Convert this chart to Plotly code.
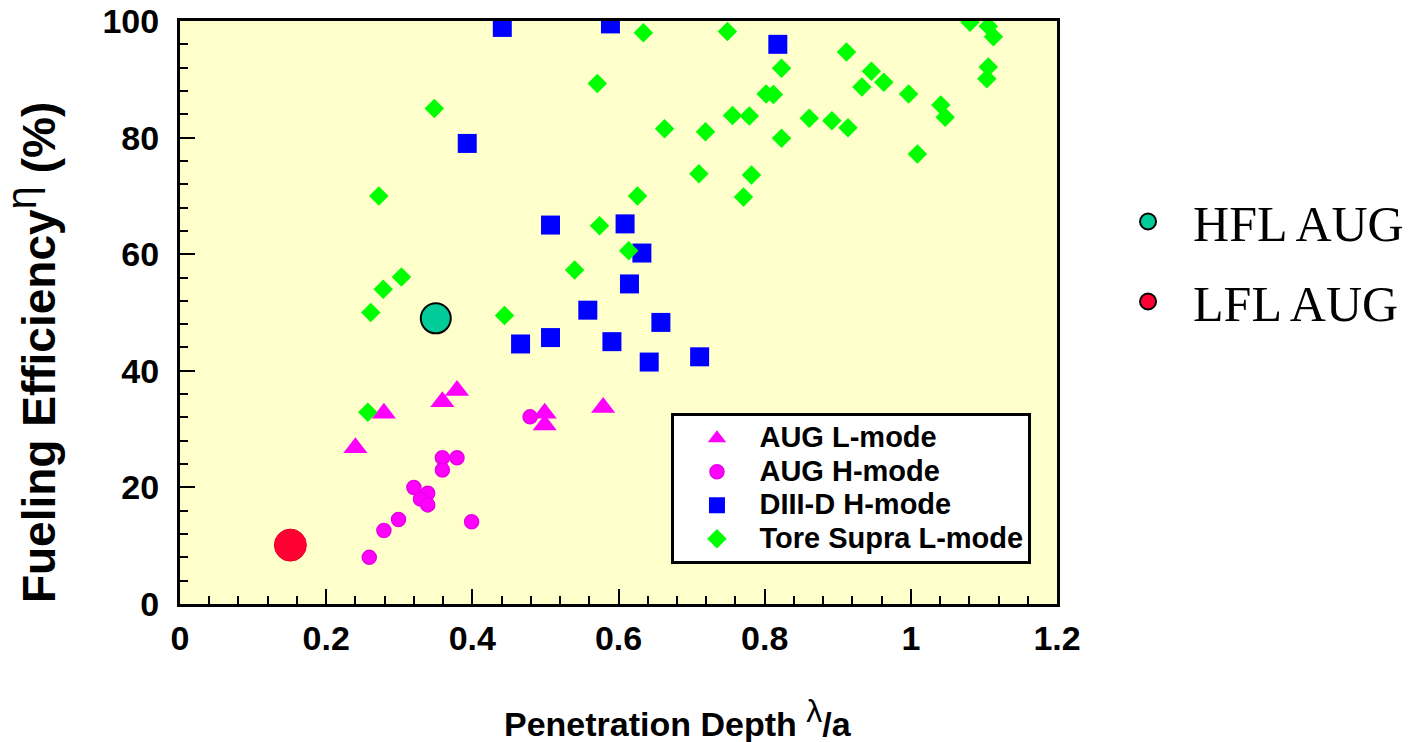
import plotly.graph_objects as go

# AUG L-mode (triangles)
aug_l_x = [0.240, 0.279, 0.359, 0.379, 0.499, 0.499, 0.579]
aug_l_y = [26.8, 32.7, 34.7, 36.6, 32.7, 30.7, 33.7]

# AUG H-mode (circles)
aug_h_x = [0.479, 0.359, 0.379, 0.359, 0.320, 0.339, 0.329, 0.339, 0.299, 0.279, 0.399, 0.259]
aug_h_y = [32.1, 25.1, 25.1, 23.0, 20.0, 19.0, 18.0, 17.0, 14.5, 12.6, 14.1, 8.0]

# DIII-D H-mode (squares)
d3d_x = [0.441, 0.589, 0.393, 0.818, 0.507, 0.609, 0.632, 0.615, 0.558, 0.658,
         0.466, 0.507, 0.591, 0.642, 0.711]
d3d_y = [98.9, 99.5, 79.0, 96.0, 65.0, 65.2, 60.2, 54.9, 50.4, 48.3,
         44.6, 45.7, 45.0, 41.5, 42.4]

# Tore Supra L-mode (diamonds)
ts_x = [0.634, 0.571, 0.348, 0.663, 0.272, 0.626, 0.574, 0.614, 0.540, 0.303,
        0.278, 0.261, 0.444, 0.257, 0.749, 0.912, 0.823, 0.946, 0.963, 0.933,
        0.997, 0.802, 0.812, 1.041, 1.047, 0.756, 0.779, 0.861, 0.892, 0.914,
        0.719, 0.823, 1.009, 0.710, 0.782, 0.771, 1.081, 1.106, 1.113, 1.106, 1.104]
ts_y = [98.0, 89.3, 85.0, 81.5, 70.0, 70.0, 64.9, 60.6, 57.3, 56.1,
        54.0, 50.0, 49.5, 32.9, 98.2, 94.7, 91.9, 91.4, 89.5, 88.7,
        87.5, 87.5, 87.4, 85.6, 83.5, 83.8, 83.7, 83.3, 82.9, 81.7,
        81.0, 79.9, 77.2, 73.8, 73.6, 69.8, 99.8, 99.1, 97.3, 92.1, 90.1]

# HFL / LFL AUG
hfl_x = [0.350]
hfl_y = [49.0]
lfl_x = [0.151]
lfl_y = [10.1]

series_names = ["AUG L-mode", "AUG H-mode", "DIII-D H-mode", "Tore Supra L-mode"]

x_ticks = [0, 0.2, 0.4, 0.6, 0.8, 1.0, 1.2]
x_ticktext = ["0", "0.2", "0.4", "0.6", "0.8", "1", "1.2"]
y_ticks = [0, 20, 40, 60, 80, 100]

BOLD = "Liberation Sans, Arial, sans-serif"
SERIF = "Liberation Serif, Times New Roman, serif"


def lname(s):
    return '<span style="font-size:29px">' + s + '</span>'


fig = go.Figure()

fig.add_trace(go.Scatter(x=aug_l_x, y=aug_l_y, mode="markers", name=lname(series_names[0]),
                         marker=dict(symbol="triangle-up", size=21, color="#FF00FF"),
                         legend="legend"))
fig.add_trace(go.Scatter(x=aug_h_x, y=aug_h_y, mode="markers", name=lname(series_names[1]),
                         marker=dict(symbol="circle", size=14, color="#FF00FF",
                                     line=dict(color="#E800E8", width=1.5)),
                         legend="legend"))
fig.add_trace(go.Scatter(x=d3d_x, y=d3d_y, mode="markers", name=lname(series_names[2]),
                         marker=dict(symbol="square", size=19, color="#0000FF"),
                         legend="legend"))
fig.add_trace(go.Scatter(x=ts_x, y=ts_y, mode="markers", name=lname(series_names[3]),
                         marker=dict(symbol="diamond", size=15, color="#00FF00"),
                         legend="legend"))

fig.add_trace(go.Scatter(x=hfl_x, y=hfl_y, mode="markers", name="HFL AUG",
                         marker=dict(symbol="circle", size=30, color="#00CC99",
                                     line=dict(color="black", width=2)),
                         legend="legend2", legendgroup="hfl"))
fig.add_trace(go.Scatter(x=lfl_x, y=lfl_y, mode="markers", name="LFL AUG",
                         marker=dict(symbol="circle", size=32, color="#FF0033",
                                     line=dict(color="#E8002E", width=1)),
                         legend="legend2", legendgroup="lfl", showlegend=False))
fig.add_trace(go.Scatter(x=[None], y=[None], mode="markers", name="LFL AUG",
                         marker=dict(symbol="circle", size=30, color="#FF0033",
                                     line=dict(color="black", width=2)),
                         legend="legend2", legendgroup="lfl"))

axis_common = dict(
    showline=True, linewidth=3, linecolor="black", mirror=True,
    showgrid=False, zeroline=False,
    ticks="inside", ticklen=15, tickwidth=2, tickcolor="black",
    ticklabeloverflow="allow",
    tickfont=dict(family=BOLD, size=34, color="black", weight="bold"),
)

fig.update_xaxes(range=[0, 1.2], tickvals=x_ticks, ticktext=x_ticktext,
                 minor=dict(dtick=0.04, ticks="inside", ticklen=8, tickwidth=2,
                            tickcolor="black", showgrid=False),
                 ticklabelstandoff=2, **axis_common)
fig.update_yaxes(range=[0, 100], tickvals=y_ticks,
                 minor=dict(dtick=4, ticks="inside", ticklen=8, tickwidth=2,
                            tickcolor="black", showgrid=False),
                 ticklabelstandoff=11, **axis_common)

fig.update_layout(
    width=1416, height=742,
    margin=dict(l=172, r=367, t=13, b=146, autoexpand=False),
    paper_bgcolor="white", plot_bgcolor="#FFFFCC",
    showlegend=True,
    legend=dict(x=0.5604, y=0.327, xanchor="left", yanchor="top",
                bgcolor="white", bordercolor="black", borderwidth=3,
                font=dict(family=BOLD, size=23.5, color="black", weight="bold"),
                itemwidth=75, tracegroupgap=0, entrywidth=342, entrywidthmode="pixels"),
    legend2=dict(x=1.0525, y=0.723, xanchor="left", yanchor="top",
                 bgcolor="rgba(0,0,0,0)", borderwidth=0,
                 font=dict(family=SERIF, size=50, color="black"),
                 itemwidth=80, tracegroupgap=12),
    annotations=[
        dict(text="Penetration Depth <sup><span style=\"font-weight:normal;font-size:32px\">λ</span></sup>/a",
             xref="paper", yref="paper", x=0.5676, y=-0.1955,
             xanchor="center", yanchor="middle", showarrow=False,
             font=dict(family=BOLD, size=34, color="black", weight="bold")),
        dict(text="Fueling Efficiency<sup><span style=\"font-weight:normal;font-size:42px\">η</span></sup> (%)",
             xref="paper", yref="paper", x=-0.1695, y=0.431, textangle=-90,
             xanchor="center", yanchor="middle", showarrow=False,
             font=dict(family=BOLD, size=46, color="black", weight="bold")),
    ],
)

fig.write_html("out.html")
